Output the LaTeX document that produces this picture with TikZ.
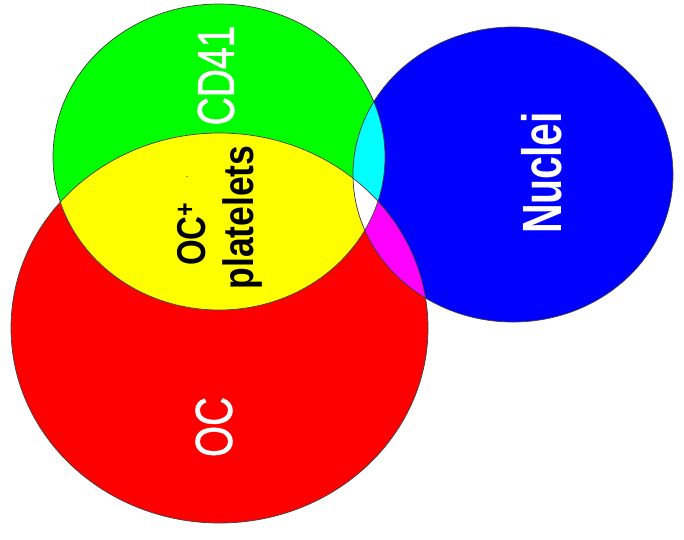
\documentclass[tikz,border=0pt]{standalone}
\usepackage{fontspec}
\usepackage{graphicx}
\setmainfont{Liberation Sans}
\newfontfamily\semibold[FakeBold=1.3]{Liberation Sans}
\definecolor{pgreen}{RGB}{0,255,0}
\definecolor{pred}{RGB}{255,0,0}
\definecolor{pblue}{RGB}{0,0,255}
\definecolor{pyellow}{RGB}{255,255,0}
\definecolor{pcyan}{RGB}{0,255,255}
\definecolor{pmagenta}{RGB}{255,0,255}
\tikzset{
  outline/.style={draw=black!75, line width=0.7pt},
  lab/.style={inner sep=0pt, rotate=90},
}
\newcommand{\GreenE}{(219,157) ellipse [x radius=166, y radius=153]}
\newcommand{\RedE}{(219.5,328) ellipse [x radius=208.5, y radius=195]}
\newcommand{\BlueE}{(513,174.5) ellipse [x radius=160, y radius=147.5]}
\begin{document}
\begin{tikzpicture}[x=1pt,y=-1pt]
\useasboundingbox (0,0) rectangle (684,539);
\fill[pred] \RedE;
\fill[pgreen] \GreenE;
\fill[pblue] \BlueE;
\begin{scope}
  \clip \GreenE;
  \fill[pyellow] \RedE;
  \fill[pcyan] \BlueE;
\end{scope}
\begin{scope}
  \clip \RedE;
  \fill[pmagenta] \BlueE;
  \clip \GreenE;
  \fill[white] \BlueE;
\end{scope}
\draw[outline] \RedE;
\draw[outline] \GreenE;
\draw[outline] \BlueE;
\node[lab, text=white] (cd) at (216,75.5)
  {\scalebox{1}[1.33]{\fontsize{39}{39}\semibold CD41}};
\node[lab, text=white] (nuc) at (542,173)
  {\scalebox{1}[1.35]{\fontsize{41}{41}\selectfont\bfseries Nuc\kern-0.03em lei}};
\node[lab, text=white] (oc) at (214,427)
  {\scalebox{1}[1.3]{\fontsize{40}{40}\semibold OC}};
\node[lab, text=black, anchor=south] (ocp) at (206,234)
  {\scalebox{1}[1.22]{\fontsize{33}{33}\selectfont\bfseries OC\textsuperscript{+}}};
\node[lab, text=black, anchor=north] (pl) at (222,217.5)
  {\scalebox{1}[1.2]{\fontsize{35.5}{35.5}\selectfont\bfseries platelets}};
\node[inner sep=0pt, text=black] (dot) at (187,177) {\fontsize{9}{9}\selectfont .};
\end{tikzpicture}
\end{document}
